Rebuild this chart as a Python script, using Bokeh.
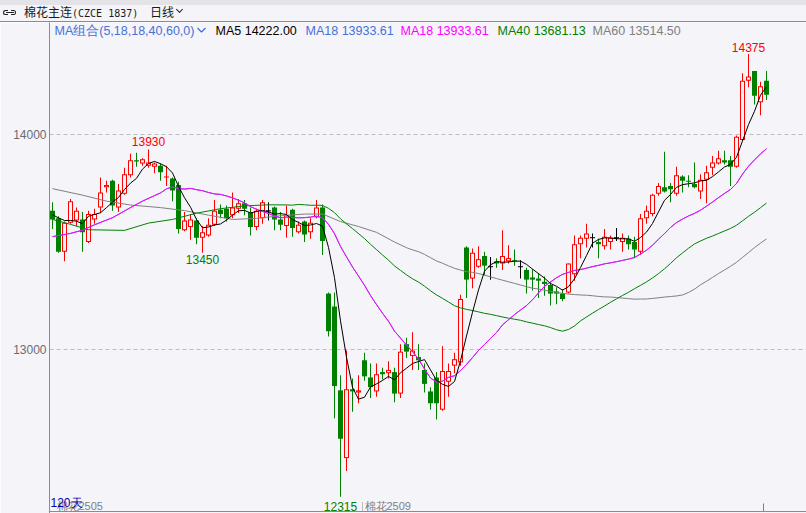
import numpy as np
from bokeh.plotting import figure
from bokeh.models import Range1d, FixedTicker, Span, Label, ColumnDataSource, Div
from bokeh.layouts import column
from bokeh.embed import file_html
from bokeh.resources import INLINE

# ---- daily bars of 棉花主连 (CZCE), oldest first ----
opens = [13645, 13610, 13455, 13590, 13600, 13605, 13500, 13605, 13660, 13755,
         13785, 13660, 13725, 13810, 13880, 13865, 13855, 13850, 13855, 13800,
         13795, 13765, 13555, 13570, 13600, 13520, 13530, 13580, 13650, 13655,
         13625, 13655, 13680, 13640, 13570, 13610, 13645, 13660, 13605, 13575,
         13650, 13545, 13595, 13545, 13615, 13660, 13260, 13200, 12810, 12495,
         12815, 12800, 12950, 12870, 12805, 12895, 12890, 12895, 12795, 13025,
         12970, 12965, 12905, 12805, 12870, 12720, 12850, 12925, 12940, 13475,
         13330, 13385, 13435, 13385, 13410, 13400, 13410, 13415, 13385, 13370,
         13335, 13330, 13315, 13300, 13270, 13260, 13265, 13350, 13490, 13515,
         13520, 13500, 13480, 13500, 13520, 13500, 13515, 13500, 13455, 13610,
         13630, 13725, 13755, 13760, 13725, 13805, 13785, 13770, 13735, 13790,
         13845, 13865, 13880, 13880, 13850, 13975, 14250, 14295, 14150, 14250]
highs = [13685, 13620, 13595, 13700, 13660, 13640, 13645, 13655, 13800, 13785,
         13790, 13770, 13845, 13910, 13915, 13890, 13930, 13870, 13865, 13855,
         13800, 13780, 13640, 13630, 13610, 13575, 13610, 13695, 13675, 13670,
         13730, 13700, 13695, 13660, 13655, 13695, 13685, 13665, 13640, 13670,
         13655, 13595, 13600, 13610, 13695, 13675, 13265, 13265, 12880, 12995,
         12865, 12880, 12985, 12935, 12935, 12915, 12945, 12915, 13025, 13055,
         13080, 13025, 12935, 12825, 12895, 13015, 12935, 12985, 13255, 13480,
         13470, 13480, 13455, 13430, 13425, 13555, 13485, 13465, 13415, 13380,
         13375, 13355, 13340, 13315, 13290, 13280, 13400, 13530, 13530, 13585,
         13540, 13515, 13560, 13530, 13565, 13540, 13530, 13525, 13630, 13670,
         13725, 13775, 13920, 13775, 13850, 13810, 13810, 13870, 13815, 13855,
         13900, 13925, 13925, 13900, 13995, 14285, 14375, 14295, 14245, 14295]
lows = [13560, 13450, 13410, 13585, 13575, 13455, 13495, 13585, 13635, 13730,
        13645, 13640, 13720, 13800, 13850, 13855, 13845, 13820, 13785, 13760,
        13690, 13540, 13550, 13510, 13490, 13450, 13525, 13575, 13610, 13595,
        13610, 13635, 13625, 13530, 13555, 13585, 13600, 13555, 13555, 13520,
        13525, 13540, 13500, 13515, 13610, 13440, 13060, 12680, 12315, 12435,
        12710, 12750, 12855, 12775, 12780, 12860, 12865, 12755, 12775, 12960,
        12905, 12905, 12800, 12720, 12675, 12715, 12780, 12890, 12925, 13240,
        13285, 13380, 13345, 13325, 13380, 13370, 13400, 13390, 13330, 13260,
        13275, 13240, 13250, 13205, 13210, 13225, 13260, 13320, 13425, 13475,
        13475, 13425, 13465, 13465, 13505, 13455, 13465, 13425, 13440, 13585,
        13620, 13715, 13730, 13685, 13715, 13730, 13755, 13750, 13700, 13680,
        13810, 13860, 13860, 13760, 13845, 13970, 14220, 14140, 14090, 14160]
closes = [13605, 13455, 13590, 13690, 13645, 13545, 13630, 13630, 13730, 13765,
          13670, 13740, 13815, 13880, 13875, 13885, 13870, 13865, 13825, 13805,
          13740, 13560, 13600, 13605, 13520, 13545, 13580, 13645, 13630, 13610,
          13660, 13680, 13655, 13570, 13645, 13685, 13645, 13605, 13580, 13625,
          13565, 13580, 13535, 13590, 13660, 13505, 13085, 12830, 12585, 12815,
          12805, 12810, 12875, 12825, 12885, 12885, 12905, 12795, 12990, 12990,
          12995, 12950, 12840, 12750, 12750, 12900, 12900, 12955, 13235, 13325,
          13450, 13420, 13390, 13385, 13400, 13435, 13425, 13410, 13385, 13325,
          13325, 13320, 13305, 13260, 13260, 13235, 13400, 13490, 13520, 13540,
          13520, 13490, 13525, 13520, 13520, 13520, 13490, 13465, 13610, 13645,
          13720, 13760, 13735, 13745, 13810, 13785, 13780, 13755, 13790, 13825,
          13870, 13890, 13870, 13850, 13990, 14250, 14270, 14180, 14225, 14185]

# moving-average values at the left edge, where each window still reaches
# back before the first bar on screen: (bar index, value)
ma5_head_idx = [0, 1, 2, 3]
ma5_head = [13627, 13612, 13600, 13600]
ma18_head_idx = [0, 3, 5, 7, 10, 13, 15]
ma18_head = [13525, 13540, 13555, 13580, 13613, 13660, 13690]
ma40_head_idx = [0, 3, 6, 12, 16, 20, 24, 28, 32, 36]
ma40_head = [13605, 13582, 13557, 13554, 13588, 13605, 13634, 13655, 13668, 13673]
ma60_head_idx = [0, 5, 9, 13, 18, 22, 26, 30, 34, 38, 42, 45, 48, 51, 54, 57]
ma60_head = [13748, 13718, 13690, 13672, 13660, 13646, 13625, 13605, 13610,
             13622, 13630, 13630, 13595, 13572, 13545, 13500]

price_ticks = [13000, 14000]
title_cn = "棉花主连"
title_code = "(CZCE 1837)"
period_text = "日线"
ma_group_text = "MA组合(5,18,18,40,60,0)"
ma_legend = ["MA5 14222.00", "MA18 13933.61", "MA18 13933.61",
             "MA40 13681.13", "MA60 13514.50"]
contract_labels = ["棉花2505", "棉花2509"]
span_text = "120天"

# ---- styling / geometry ----
BG = "#f4f4f9"
RED = "#ff0000"
GREEN = "#008000"
BLUE = "#4472d8"
MAGENTA = "#ff00ff"
GREY = "#808080"
W, H_HEADER, H_PLOT = 806, 22, 491
LEFT = 49
BAR_PX = 6.0          # pixels per bar
PX_PER_PT = 0.215     # pixels per price point
X_START = -3.0 / BAR_PX
X_END = X_START + (W - LEFT) / BAR_PX
Y_TOP = 14000 + 112.0 / PX_PER_PT
Y_BOTTOM = Y_TOP - H_PLOT / PX_PER_PT
BODY_W = 5 / BAR_PX
INNER_W = 3 / BAR_PX
WICK_W = 1 / BAR_PX
ONE_PX = 1 / PX_PER_PT
LATIN = "Liberation Sans"


def px_x(px):
    return X_START + (px - LEFT) / BAR_PX


def px_y(py):
    return Y_TOP - (py - H_HEADER) / PX_PER_PT


n = len(closes)
idx = np.arange(n)
o = np.array(opens, dtype=float)
h = np.array(highs, dtype=float)
l = np.array(lows, dtype=float)
c = np.array(closes, dtype=float)

p = figure(width=W, height=H_PLOT, x_range=Range1d(X_START, X_END),
           y_range=Range1d(Y_BOTTOM, Y_TOP), output_backend="svg",
           toolbar_location=None, x_axis_location=None, y_axis_location="left",
           min_border_left=LEFT, min_border_right=0, min_border_top=0,
           min_border_bottom=0, background_fill_color=BG, border_fill_color=BG)
p.outline_line_color = None
p.xgrid.visible = False

ax = p.yaxis[0]
ax.ticker = FixedTicker(ticks=price_ticks)
ax.axis_line_color = "#8c8c8c"
ax.major_tick_in = 0
ax.major_tick_out = 0
ax.minor_tick_in = 0
ax.minor_tick_out = 0
ax.major_label_standoff = 3
ax.major_label_text_font = LATIN
ax.major_label_text_font_size = "12px"
ax.major_label_text_color = "#6b6b73"
p.ygrid.ticker = FixedTicker(ticks=price_ticks)
p.ygrid.grid_line_color = "#bdbdc4"
p.ygrid.grid_line_dash = "4 3"

# bottom rule of the price panel
p.add_layout(Span(location=px_y(511), dimension="width",
                  line_color="#8c8c8c", line_width=1))

# ---- candles (filled shapes, so edges sit on whole pixels) ----
up = c > o
dn = c < o
eq = c == o


def src(mask):
    top = np.maximum(o[mask], c[mask])
    bot = np.minimum(o[mask], c[mask])
    return ColumnDataSource(dict(x=idx[mask], o=o[mask], c=c[mask], h=h[mask], l=l[mask],
                                 top=top, bot=bot,
                                 itop=top - ONE_PX, ibot=np.minimum(bot + ONE_PX, top - ONE_PX),
                                 xl=idx[mask] - 2.5 / BAR_PX, xr=idx[mask] + 2.5 / BAR_PX))


s_up, s_dn, s_eq = src(up), src(dn), src(eq)

# rising bars: red frame with hollow body
p.vbar(x="x", width=WICK_W, bottom="l", top="h", source=s_up, fill_color=RED, line_color=None)
p.vbar(x="x", width=BODY_W, bottom="bot", top="top", source=s_up, fill_color=RED, line_color=None)
p.vbar(x="x", width=INNER_W, bottom="ibot", top="itop", source=s_up, fill_color=BG, line_color=None)
# falling bars: solid green
p.vbar(x="x", width=WICK_W, bottom="l", top="h", source=s_dn, fill_color=GREEN, line_color=None)
p.vbar(x="x", width=BODY_W, bottom="bot", top="top", source=s_dn, fill_color=GREEN, line_color=None)
# unchanged bars: black cross
p.vbar(x="x", width=WICK_W, bottom="l", top="h", source=s_eq, fill_color="black", line_color=None)
p.segment(x0="xl", y0="o", x1="xr", y1="o", source=s_eq, line_color="black", line_width=1)

# ---- moving averages ----
def ma_line(period, head_idx, head_vals):
    tail = [c[k - period + 1:k + 1].mean() for k in range(period - 1, n)]
    xs = list(head_idx) + list(range(period - 1, n))
    ys = list(head_vals) + tail
    return xs, ys


for period, hi, hv, col in [(60, ma60_head_idx, ma60_head, GREY),
                            (40, ma40_head_idx, ma40_head, GREEN),
                            (18, ma18_head_idx, ma18_head, BLUE),
                            (18, ma18_head_idx, ma18_head, MAGENTA),
                            (5, ma5_head_idx, ma5_head, "black")]:
    xs, ys = ma_line(period, hi, hv)
    p.line(xs, ys, line_color=col, line_width=1)

# ---- extreme value labels ----
hi_early = int(np.argmax(h[:40]))
lo_early = 25
lo_all = int(np.argmin(l))
hi_all = int(np.argmax(h))
for i_bar, val, col, base, off in [(hi_early, h[hi_early], RED, "alphabetic", 8),
                                   (hi_all, h[hi_all], RED, "alphabetic", 6),
                                   (lo_early, l[lo_early], GREEN, "top", -2),
                                   (lo_all, l[lo_all], GREEN, "top", -5)]:
    p.add_layout(Label(x=i_bar, y=val, y_offset=off, text=f"{int(val)}",
                       text_align="center", text_baseline=base, text_color=col,
                       text_font=LATIN, text_font_size="12px"))

# ---- MA legend row ----
legend_x = [215, 305, 400, 497, 592]
legend_col = ["black", BLUE, MAGENTA, GREEN, GREY]
p.add_layout(Label(x=px_x(54), y=px_y(30.5), text=ma_group_text, text_color=BLUE,
                   text_baseline="middle", text_font=LATIN, text_font_size="12.5px"))
p.line([px_x(197), px_x(201), px_x(205)], [px_y(27.5), px_y(31.5), px_y(27.5)],
       line_color=BLUE, line_width=1.3)
for txt, xp, col in zip(ma_legend, legend_x, legend_col):
    p.add_layout(Label(x=px_x(xp), y=px_y(30.5), text=txt, text_color=col,
                       text_baseline="middle", text_font=LATIN, text_font_size="12.5px"))

# ---- contract roll markers along the bottom ----
for lab, xp in zip(contract_labels, [56, 364]):
    p.add_layout(Label(x=px_x(xp), y=px_y(505.5), text=lab, text_color=GREY,
                       text_baseline="middle", text_font=LATIN, text_font_size="11px"))
p.segment(x0=[px_x(362)], y0=[px_y(502)], x1=[px_x(362)], y1=[px_y(511)],
          line_color=GREY, line_width=1, line_dash="1 1")
p.segment(x0=[px_x(763)], y0=[px_y(503)], x1=[px_x(763)], y1=[px_y(511)],
          line_color=GREY, line_width=1)
p.add_layout(Label(x=px_x(50), y=px_y(502.5), text=span_text, text_color="#0000aa",
                   text_baseline="middle", text_font=LATIN, text_font_size="12px"))

# ---- header bar ----
header_html = (
    '<div style="position:relative;width:806px;height:22px;overflow:hidden;'
    'background:linear-gradient(#e3e3e8 0px,#e3e3e8 5px,#f4f4f9 5px,#f4f4f9 21px,'
    '#8c8c8c 21px,#8c8c8c 22px);'
    "font-family:'Noto Sans CJK SC',sans-serif;font-size:12px;line-height:16px;color:#1a1a1a;\">"
    '<span style="position:absolute;left:3px;top:10px;width:5px;height:5px;'
    'border:1px solid #222;border-right:none;border-radius:3px 0 0 3px;"></span>'
    '<span style="position:absolute;left:11px;top:10px;width:5px;height:5px;'
    'border:1px solid #222;border-left:none;border-radius:0 3px 3px 0;"></span>'
    '<span style="position:absolute;left:6px;top:12px;width:8px;height:1px;background:#222;"></span>'
    f'<span style="position:absolute;left:24px;top:4px;white-space:nowrap;">{title_cn}'
    f"<span style=\"font-family:'DejaVu Sans Mono',monospace;font-size:10px;\">{title_code}</span></span>"
    f'<span style="position:absolute;left:150px;top:4px;">{period_text}</span>'
    '<span style="position:absolute;left:177px;top:7px;width:5px;height:5px;'
    'border-right:1.5px solid #222;border-bottom:1.5px solid #222;transform:rotate(45deg);"></span>'
    '</div>'
)
header = Div(text=header_html, width=W, height=H_HEADER, margin=0)

layout = column(header, p, spacing=0)
open("out.html", "w").write(file_html(layout, INLINE))
